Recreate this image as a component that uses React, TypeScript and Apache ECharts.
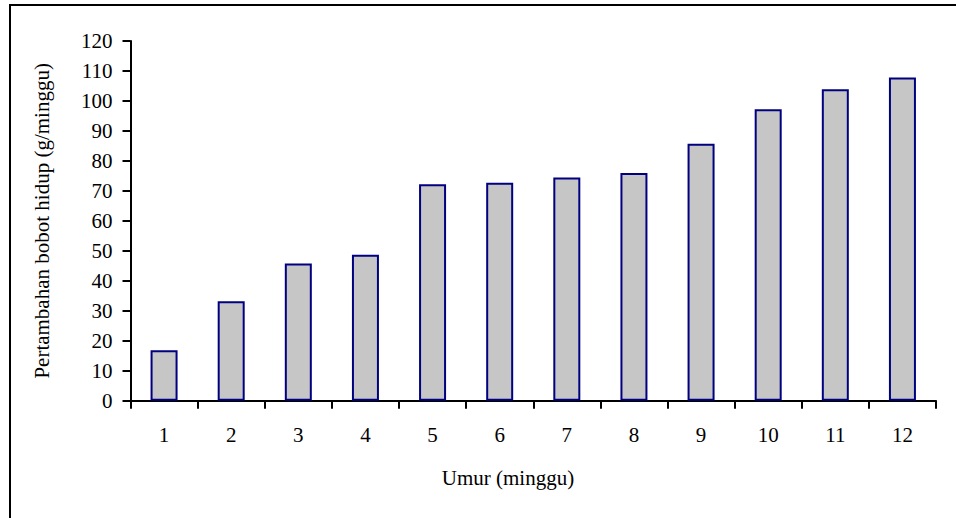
import React, { useEffect, useRef } from "react";
import * as echarts from "echarts";

const categories = ["1", "2", "3", "4", "5", "6", "7", "8", "9", "10", "11", "12"];
const gainValues = [16.8, 33.2, 45.8, 48.7, 72.2, 72.7, 74.5, 76.0, 85.7, 97.2, 103.9, 107.8];
const yTickMin = 0;
const yTickMax = 120;
const yTickStep = 10;
const xTitle = "Umur (minggu)";
const yTitle = "Pertambahan bobot hidup (g/minggu)";

const FONT = "'Liberation Serif', 'Times New Roman', serif";

export default function App() {
  const ref = useRef<HTMLDivElement>(null);
  useEffect(() => {
    if (!ref.current) return;
    const chart = echarts.init(ref.current, undefined, { renderer: "svg" });
    chart.setOption({
      animation: false,
      backgroundColor: "#ffffff",
      grid: { left: 130.5, right: 20, top: 41, bottom: 117.3, containLabel: false },
      graphic: [
        {
          type: "rect",
          shape: { x: 10, y: 5, width: 1200, height: 800 },
          style: { fill: "none", stroke: "#000", lineWidth: 2 },
          silent: true,
        },
        {
          type: "text",
          x: 508,
          y: 478,
          style: {
            text: xTitle,
            font: `21px ${FONT}`,
            fill: "#000",
            align: "center",
            verticalAlign: "middle",
          },
        },
      ],
      xAxis: {
        type: "category",
        data: categories,
        boundaryGap: true,
        axisLine: { lineStyle: { color: "#000", width: 2 } },
        axisTick: { show: true, alignWithLabel: false, length: 8, lineStyle: { color: "#000", width: 2 } },
        axisLabel: { color: "#000", fontFamily: FONT, fontSize: 21, margin: 24, interval: 0 },
        splitLine: { show: false },
      },
      yAxis: {
        type: "value",
        min: yTickMin,
        max: yTickMax,
        interval: yTickStep,
        name: yTitle,
        nameLocation: "middle",
        nameGap: 78,
        nameRotate: 90,
        nameTextStyle: { color: "#000", fontFamily: FONT, fontSize: 21 },
        axisLine: { show: true, lineStyle: { color: "#000", width: 2 } },
        axisTick: { show: true, length: 8, lineStyle: { color: "#000", width: 2 } },
        axisLabel: { color: "#000", fontFamily: FONT, fontSize: 21, margin: 18 },
        splitLine: { show: false },
      },
      series: [
        {
          type: "bar",
          data: gainValues,
          barWidth: 27,
          itemStyle: { color: "#c6c6c6", borderColor: "#000080", borderWidth: 2 },
        },
      ],
    });
    return () => chart.dispose();
  }, []);
  return (
    <div
      ref={ref}
      style={{ position: "fixed", left: 0, top: 0, width: 956, height: 518 }}
    />
  );
}
